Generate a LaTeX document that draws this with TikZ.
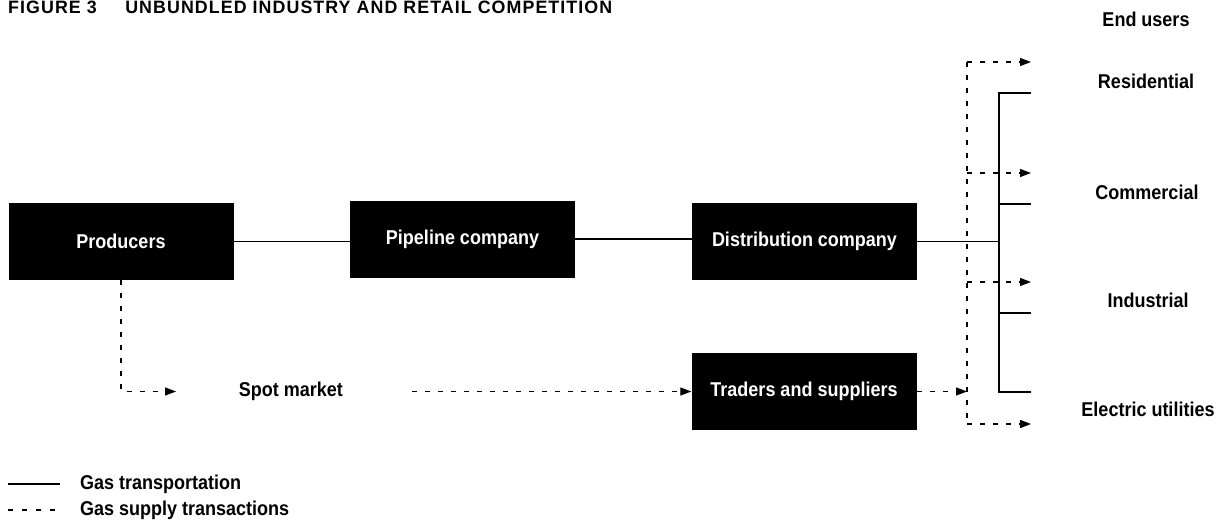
\documentclass[tikz,border=0pt]{standalone}
\usepackage{fontspec}
\usepackage{graphicx}
\newfontfamily\lab{Liberation Sans}[FakeStretch=0.9]
\newfontfamily\titlefont{Liberation Sans}[LetterSpace=6.0]
\usetikzlibrary{arrows.meta}
\begin{document}
\begin{tikzpicture}[x=1pt,y=-1pt,
  txt/.style={inner sep=0pt,font=\lab\bfseries\fontsize{20}{24}\selectfont},
  box/.style={txt,fill=black,text=white,minimum width=225pt,minimum height=77pt},
  solidline/.style={line width=1.2pt},
  dashline/.style={line width=1.2pt,dash pattern=on 5pt off 8pt},
  arr/.style={-{Triangle[length=11pt,width=8pt]}}]
\useasboundingbox (0,0) rectangle (1221,532);
% title
\node[anchor=base west,inner sep=0pt] (title) at (8,14)
  {\resizebox{604pt}{12.5pt}{\titlefont\bfseries FIGURE 3\hspace{1.6em}UNBUNDLED INDUSTRY AND RETAIL COMPETITION}};
% boxes
\node[box] (prod) at (121,241.5) {Producers};
\node[box] (pipe) at (462.5,239) {Pipeline company};
\node[box] (dist) at (804.5,241.5) {Distribution company};
\node[box] (trad) at (804,391.5) {Traders and suppliers};
\node[txt] (spot) at (291,391.5) {Spot market};
% end users
\node[txt] (endu) at (1146,19) {End users};
\node[txt] (res) at (1146,81) {Residential};
\node[txt] (com) at (1147,192) {Commercial};
\node[txt] (ind) at (1148,300) {Industrial};
\node[txt] (ele) at (1148,409) {Electric utilities};
% coordinates
\coordinate (sv) at (999,93);
\coordinate (svB) at (999,392);
\coordinate (dvT) at (967,62);
\coordinate (dvB) at (967,424);
\coordinate (spotin) at (176,391.5);
\coordinate (spotout) at (412,391.5);
% solid transport lines
\draw[solidline] (prod.east) -- (prod.east -| pipe.west);
\draw[solidline] (pipe.east) -- (pipe.east -| dist.west);
\draw[solidline] (dist.east) -- (dist.east -| sv);
\draw[solidline] (1031,93) -- (sv) -- (svB) -- (1031,392);
\draw[solidline] (999,204) -- (1031,204);
\draw[solidline] (999,313) -- (1031,313);
% dashed supply transactions
\draw[dashline,arr] (prod.south) |- (spotin);
\draw[dashline,arr] (spotout) -- (trad.west);
\draw[dashline,arr] (trad.east) -- (trad.east -| dvT);
\draw[dashline] (dvT) -- (dvB);
\draw[dashline,arr] (dvT) -- (1031,62);
\draw[dashline,arr] (967,173) -- (1031,173);
\draw[dashline,arr] (967,282) -- (1031,282);
\draw[dashline,arr] (dvB) -- (1031,424);
% legend
\coordinate (la) at (8,484);
\coordinate (lb) at (60,484);
\coordinate (lc) at (8,510);
\coordinate (ld) at (56,510);
\draw[solidline] (la) -- (lb);
\draw[line width=1.2pt,dash pattern=on 5pt off 9pt] (lc) -- (ld);
\node[txt,anchor=west] (l1) at (80,484) {Gas transportation};
\node[txt,anchor=west] (l2) at (80,510) {Gas supply transactions};
\end{tikzpicture}
\end{document}
